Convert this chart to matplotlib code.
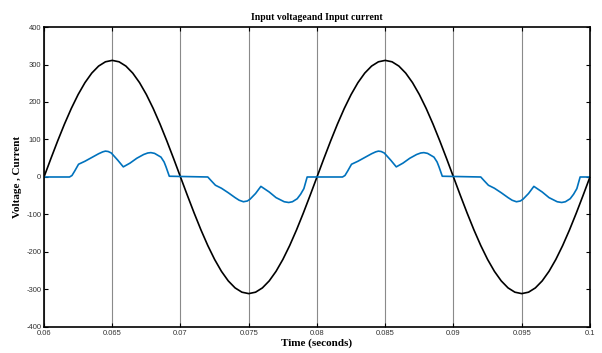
import matplotlib
matplotlib.use("Agg")
import matplotlib.pyplot as plt
import numpy as np

# time axis for the voltage samples (every 0.5 ms)
volt_t = np.arange(0.06, 0.10001, 0.0005)
volt_v = [0, 48.7, 96.1, 141.2, 182.8, 219.9, 251.6, 277.1, 295.8, 307.2,
          311, 307.2, 295.8, 277.1, 251.6, 219.9, 182.8, 141.2, 96.1, 48.7,
          0, -48.7, -96.1, -141.2, -182.8, -219.9, -251.6, -277.1, -295.8, -307.2,
          -311, -307.2, -295.8, -277.1, -251.6, -219.9, -182.8, -141.2, -96.1, -48.7,
          0, 48.7, 96.1, 141.2, 182.8, 219.9, 251.6, 277.1, 295.8, 307.2,
          311, 307.2, 295.8, 277.1, 251.6, 219.9, 182.8, 141.2, 96.1, 48.7,
          0, -48.7, -96.1, -141.2, -182.8, -219.9, -251.6, -277.1, -295.8, -307.2,
          -311, -307.2, -295.8, -277.1, -251.6, -219.9, -182.8, -141.2, -96.1, -48.7,
          0]

# input current
cur_t = [0.0600, 0.06187, 0.06205, 0.06225, 0.06253, 0.0630, 0.0635, 0.0640, 0.0643,
         0.0645, 0.0647, 0.06493, 0.0654, 0.06581, 0.0663, 0.0668, 0.0673, 0.0676,
         0.06783, 0.0681, 0.06857, 0.0688, 0.06894, 0.06918,
         0.0720, 0.07225, 0.07256, 0.0730, 0.0735, 0.0740, 0.0743, 0.07461, 0.0749,
         0.0751, 0.0755, 0.07589, 0.0765, 0.0770, 0.0776, 0.07793, 0.0782, 0.07855,
         0.0788, 0.07904, 0.07928,
         0.08187, 0.08205, 0.08225, 0.08253, 0.0830, 0.0835, 0.0840, 0.0843,
         0.0845, 0.0847, 0.08493, 0.0854, 0.08581, 0.0863, 0.0868, 0.0873, 0.0876,
         0.08783, 0.0881, 0.08857, 0.0888, 0.08894, 0.08918,
         0.0920, 0.09225, 0.09256, 0.0930, 0.0935, 0.0940, 0.0943, 0.09461, 0.0949,
         0.0951, 0.0955, 0.09589, 0.0965, 0.0970, 0.0976, 0.09793, 0.0982, 0.09855,
         0.0988, 0.09904, 0.09928, 0.1000]
cur_v = [0, 0, 4, 16, 34, 42, 52, 62, 67,
         69, 68, 64, 45, 27, 37, 50, 60, 64,
         65, 63, 53, 40, 27, 2,
         0, -10, -22, -30, -42, -55, -62, -66, -64,
         -59, -44, -25, -40, -55, -66, -68, -66, -58,
         -46, -31, 0,
         0, 4, 16, 34, 42, 52, 62, 67,
         69, 68, 64, 45, 27, 37, 50, 60, 64,
         65, 63, 53, 40, 27, 2,
         0, -10, -22, -30, -42, -55, -62, -66, -64,
         -59, -44, -25, -40, -55, -66, -68, -66, -58,
         -46, -31, 0, 0]

x_ticks = [0.06, 0.065, 0.07, 0.075, 0.08, 0.085, 0.09, 0.095, 0.1]
x_labels = ["0.06", "0.065", "0.07", "0.075", "0.08", "0.085", "0.09", "0.095", "0.1"]
y_ticks = [-400, -300, -200, -100, 0, 100, 200, 300, 400]

serif = "Liberation Serif"
sans = "Liberation Sans"

fig = plt.figure(figsize=(6.02, 3.53), dpi=100)
ax = fig.add_axes([0.0731, 0.0737, 0.9069, 0.8498])

ax.plot(volt_t, volt_v, color="black", lw=1.2)
ax.plot(cur_t, cur_v, color="#0072BD", lw=1.2)

ax.set_xlim(0.06, 0.1)
ax.set_ylim(-400, 400)
ax.set_xticks(x_ticks)
ax.set_xticklabels(x_labels, fontfamily=sans, fontsize=5.5, color="#333333")
ax.set_yticks(y_ticks)
ax.set_yticklabels([str(v) for v in y_ticks], fontfamily=sans, fontsize=5.5, color="#333333")
ax.tick_params(direction="in", length=3, width=0.8, top=True, right=True, pad=2)

ax.grid(axis="x", color="#8a8a8a", lw=0.8)
for s in ax.spines.values():
    s.set_linewidth(1.2)

ax.set_title("Input voltageand Input current", fontfamily=serif, fontweight="bold",
             fontsize=7, pad=5)
ax.set_xlabel("Time (seconds)", fontfamily=serif, fontweight="bold", fontsize=8, labelpad=1)
ax.set_ylabel("Voltage , Current", fontfamily=serif, fontweight="bold", fontsize=8, labelpad=3)

fig.savefig("out.png", dpi=100)
